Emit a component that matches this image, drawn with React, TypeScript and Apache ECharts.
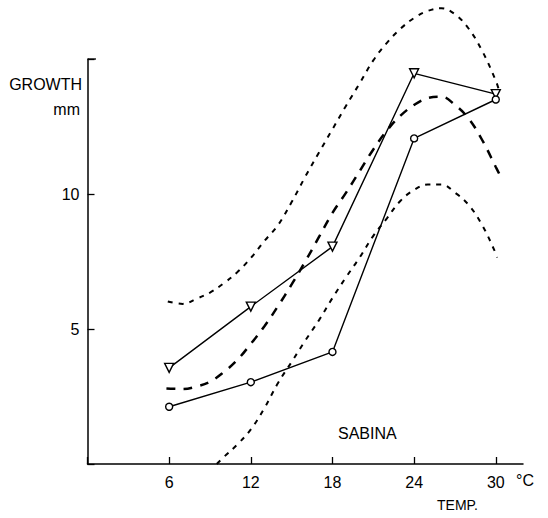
import React, { useEffect, useRef } from "react";
import * as echarts from "echarts";

const xTicks = [6, 12, 18, 24, 30];
const yTickLabels = [5, 10];
const triangleSeries = [3.56, 5.83, 8.05, 14.47, 13.7];
const circleSeries = [2.12, 3.03, 4.15, 12.06, 13.5];

const upperBand: [number, number][] = [
  [5.9, 6.02], [7, 5.93], [8, 6.12], [9, 6.35], [10, 6.69], [11, 7.1], [12, 7.63],
  [13, 8.26], [14, 8.85], [15, 9.7], [16, 10.64], [17, 11.53], [18, 12.4], [19, 13.27],
  [20, 14.1], [21, 14.95], [22, 15.6], [23, 16.12], [24, 16.52], [25, 16.78], [26, 16.88],
  [27, 16.66], [28, 16.13], [29, 15.3], [30, 14.2], [30.2, 13.9],
];
const fitCurve: [number, number][] = [
  [5.8, 2.8], [7, 2.78], [8, 2.87], [9, 3.05], [10, 3.4], [11, 3.85], [12, 4.45],
  [13, 5.1], [14, 5.85], [15, 6.65], [16, 7.5], [17, 8.4], [18, 9.3], [19, 10.05],
  [20, 10.85], [21, 11.65], [22, 12.35], [23, 12.9], [24, 13.3], [25, 13.55], [26, 13.6],
  [27, 13.3], [28, 12.8], [29, 12.0], [30, 11.0], [30.3, 10.7],
];
const lowerBand: [number, number][] = [
  [9.5, 0], [10, 0.25], [11, 0.72], [12, 1.28], [13, 2.07], [14, 3.0], [15, 3.78],
  [16, 4.57], [17, 5.32], [18, 6.15], [19, 6.92], [20, 7.65], [21, 8.45], [22, 9.1],
  [23, 9.75], [24, 10.15], [25, 10.35], [26, 10.35], [27, 10.05], [28, 9.6], [29, 8.85],
  [30, 7.8], [30.1, 7.65],
];

const FONT = "'Liberation Sans', Arial, sans-serif";

export default function App() {
  const ref = useRef<HTMLDivElement>(null);
  useEffect(() => {
    if (!ref.current) return;
    const chart = echarts.init(ref.current, null, { renderer: "svg" });
    const pair = (vals: number[]) => xTicks.map((x, i) => [x, vals[i]]);
    chart.setOption({
      animation: false,
      backgroundColor: "#fff",
      grid: { left: 87.5, top: 59, right: 25, bottom: 54, containLabel: false },
      xAxis: {
        type: "value",
        min: 0,
        max: 32,
        interval: 6,
        splitLine: { show: false },
        axisLine: { lineStyle: { color: "#000", width: 1.5 } },
        axisTick: { inside: true, length: 7, lineStyle: { color: "#000", width: 1.3 } },
        axisLabel: {
          color: "#000",
          fontSize: 16,
          fontFamily: FONT,
          margin: 10,
          showMaxLabel: false,
          formatter: (v: number) => (xTicks.includes(v) ? String(v) : ""),
        },
      },
      yAxis: {
        type: "value",
        min: 0,
        max: 15,
        interval: 5,
        splitLine: { show: false },
        axisLine: { lineStyle: { color: "#000", width: 1.5 } },
        axisTick: { inside: true, length: 7, lineStyle: { color: "#000", width: 1.3 } },
        axisLabel: {
          color: "#000",
          fontSize: 16,
          fontFamily: FONT,
          margin: 8,
          formatter: (v: number) => (yTickLabels.includes(v) ? String(v) : ""),
        },
      },
      series: [
        {
          type: "line",
          data: upperBand,
          smooth: 0.4,
          symbol: "none",
          clip: false,
          lineStyle: { color: "#000", width: 2, type: [5, 6] },
          z: 1,
        },
        {
          type: "line",
          data: fitCurve,
          smooth: 0.4,
          symbol: "none",
          clip: false,
          lineStyle: { color: "#000", width: 2.5, type: [9, 8] },
          z: 1,
        },
        {
          type: "line",
          data: lowerBand,
          smooth: 0.4,
          symbol: "none",
          clip: false,
          lineStyle: { color: "#000", width: 2, type: [5, 6] },
          z: 1,
        },
        {
          type: "line",
          data: pair(triangleSeries),
          symbol: "triangle",
          symbolRotate: 180,
          symbolSize: 9,
          lineStyle: { color: "#000", width: 1.4 },
          itemStyle: { color: "#fff", borderColor: "#000", borderWidth: 1.4 },
          z: 3,
        },
        {
          type: "line",
          data: pair(circleSeries),
          symbol: "circle",
          symbolSize: 7,
          lineStyle: { color: "#000", width: 1.4 },
          itemStyle: { color: "#fff", borderColor: "#000", borderWidth: 1.4 },
          z: 3,
        },
      ],
      graphic: [
        { type: "line", shape: { x1: 88, y1: 59, x2: 96, y2: 59 }, style: { stroke: "#000", lineWidth: 1.3 } },
        { type: "text", right: 466, top: 76, style: { text: "GROWTH", font: `16px ${FONT}`, fill: "#000" } },
        { type: "text", right: 468, top: 101, style: { text: "mm", font: `16px ${FONT}`, fill: "#000" } },
        { type: "text", left: 338, top: 425, style: { text: "SABINA", font: `16px ${FONT}`, fill: "#000" } },
        { type: "text", left: 516, top: 472, style: { text: "°C", font: `16px ${FONT}`, fill: "#000" } },
        { type: "text", left: 437, top: 498, style: { text: "TEMP.", font: `14px ${FONT}`, fill: "#000" } },
      ],
    });
    return () => chart.dispose();
  }, []);
  return (
    <div
      ref={ref}
      style={{ position: "fixed", left: 0, top: 0, width: 548, height: 518 }}
    />
  );
}
